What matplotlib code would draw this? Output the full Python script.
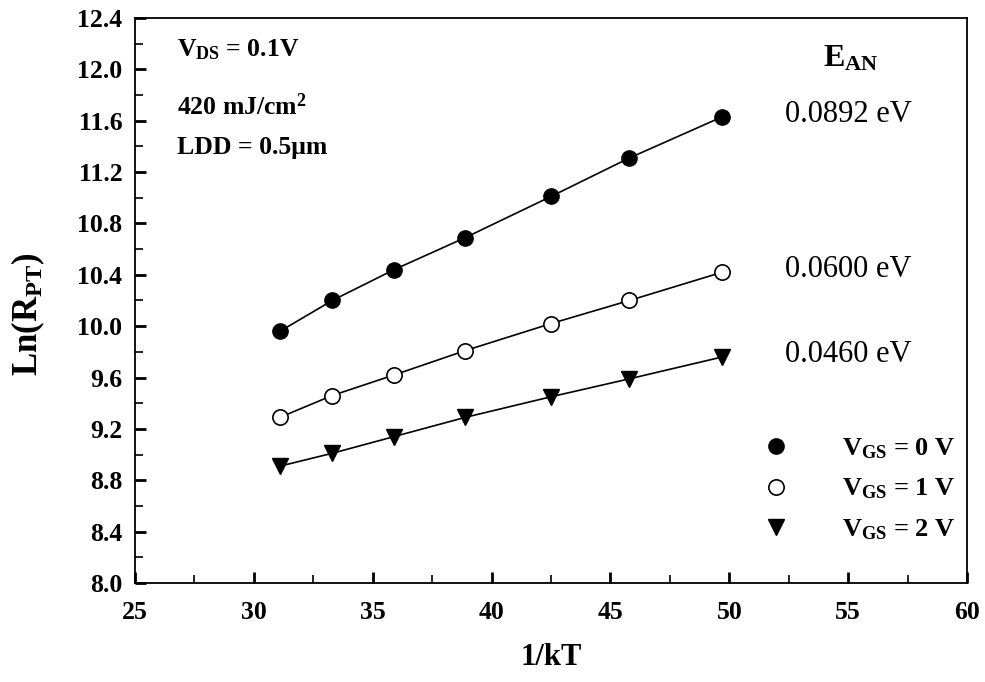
import numpy as np
import matplotlib
matplotlib.use("Agg")
import matplotlib.pyplot as plt
from matplotlib.ticker import MultipleLocator, FormatStrFormatter

# data
inv_kt = [31.1, 33.3, 35.9, 38.9, 42.5, 45.8, 49.7]
ln_r_vgs0 = [9.96, 10.20, 10.44, 10.69, 11.01, 11.31, 11.63]
ln_r_vgs1 = [9.29, 9.46, 9.62, 9.81, 10.02, 10.20, 10.42]
ln_r_vgs2 = [8.91, 9.01, 9.14, 9.29, 9.45, 9.59, 9.76]
series_labels = [r'V$_{\mathbf{GS}}$ = 0 V', r'V$_{\mathbf{GS}}$ = 1 V', r'V$_{\mathbf{GS}}$ = 2 V']
energies = ['0.0892 eV', '0.0600 eV', '0.0460 eV']

plt.rcParams['font.family'] = ['Liberation Serif', 'DejaVu Serif']
plt.rcParams['mathtext.fontset'] = 'custom'
plt.rcParams['mathtext.rm'] = 'Liberation Serif'
plt.rcParams['mathtext.bf'] = 'Liberation Serif:bold'
plt.rcParams['mathtext.it'] = 'Liberation Serif:italic'

fig = plt.figure(figsize=(9.85, 6.82), dpi=100)
ax = fig.add_axes([0.137, 0.1452, 0.8447, 0.8284])

styles = [
    dict(marker='o', mfc='black', mec='black', ms=11),
    dict(marker='o', mfc='white', mec='black', ms=11, mew=1.2),
    dict(marker='v', mfc='black', mec='black', ms=11),
]
for yv, st, lab in zip([ln_r_vgs0, ln_r_vgs1, ln_r_vgs2], styles, series_labels):
    ax.plot(inv_kt, yv, '-', color='black', lw=1.2, zorder=2)
    ax.plot(inv_kt, yv, linestyle='none', label=lab, zorder=3, **st)

ax.set_xlim(25, 60)
ax.set_ylim(8.0, 12.4)
ax.xaxis.set_major_locator(MultipleLocator(5))
ax.xaxis.set_minor_locator(MultipleLocator(2.5))
ax.yaxis.set_major_locator(MultipleLocator(0.4))
ax.yaxis.set_minor_locator(MultipleLocator(0.2))
ax.yaxis.set_major_formatter(FormatStrFormatter('%.1f'))
ax.tick_params(which='both', direction='in', top=False, right=False)
ax.tick_params(which='major', length=8, width=2, labelsize=18.5)
ax.tick_params(axis='x', which='major', pad=13)
ax.tick_params(axis='y', which='major', pad=9)
ax.tick_params(which='minor', length=6, width=1.2)
for lbl in ax.get_xticklabels() + ax.get_yticklabels():
    lbl.set_fontweight('bold')
for sp in ax.spines.values():
    sp.set_linewidth(1.3)

ax.set_xlabel('1/kT', fontsize=22, fontweight='bold', labelpad=14)
ax.set_ylabel(r'Ln(R$_{\mathbf{PT}}$)', fontsize=25, fontweight='bold')
ax.yaxis.set_label_coords(-0.106, 0.475)

# parameter notes
ax.text(26.75, 12.15, r'V$_{\mathbf{DS}}$ = 0.1V', fontsize=18.5, fontweight='bold', va='center')
ax.text(26.75, 11.71, r'420 mJ/cm$^{\mathbf{2}}$', fontsize=18.5, fontweight='bold', va='center')
ax.text(26.75, 11.39, 'LDD = 0.5\u03bcm', fontsize=18.5, fontweight='bold', va='center')

# activation energies
ax.text(55.1, 12.08, r'E$_{\mathbf{AN}}$', fontsize=23, fontweight='bold', ha='center', va='center')
for e, yv in zip(energies, [ln_r_vgs0, ln_r_vgs1, ln_r_vgs2]):
    ax.text(55.0, yv[-1] + 0.02, e, fontsize=22, ha='center', va='center')

ax.legend(loc='lower right', bbox_to_anchor=(0.998, 0.054), frameon=False,
          prop={'size': 19, 'weight': 'bold'}, handlelength=1.0,
          handletextpad=2.0, labelspacing=0.6, borderaxespad=0)

fig.savefig('out.png', dpi=100)
